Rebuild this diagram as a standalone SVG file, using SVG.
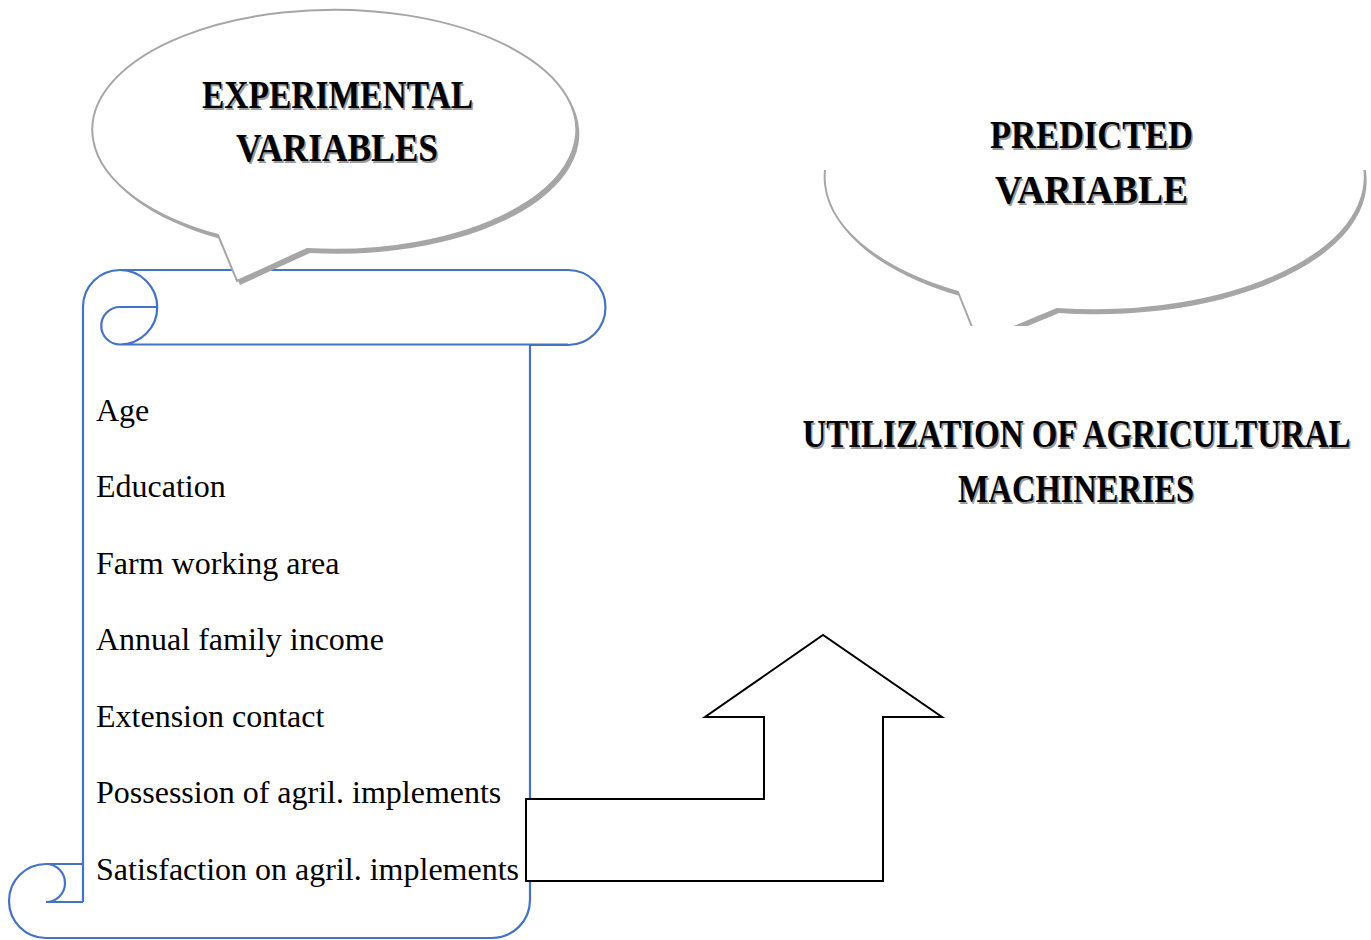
<svg xmlns="http://www.w3.org/2000/svg" width="1371" height="940" viewBox="0 0 1371 940">
<style>
.scroll{fill:#ffffff;stroke:#4472c4;stroke-width:2.2;stroke-linejoin:round}
.scrollline{fill:none;stroke:#4472c4;stroke-width:2.2}
.bub{fill:#ffffff;stroke:#a6a6a6;stroke-width:2}
.shadow{fill:#a6a6a6;stroke:none}
.item{font-family:"Liberation Serif","Times New Roman",serif;font-size:32px;fill:#000}
.head{font-family:"Liberation Serif","Times New Roman",serif;font-size:40px;font-weight:bold;fill:#000;text-anchor:middle}
.headsh{font-family:"Liberation Serif","Times New Roman",serif;font-size:40px;font-weight:bold;fill:#9a9a9a;text-anchor:middle}
.small{font-size:30px}
.arrow{fill:#ffffff;stroke:#000;stroke-width:2;stroke-linejoin:miter}
</style>
<defs>
<clipPath id="predClip"><rect x="790" y="170" width="581" height="156"/></clipPath>
</defs>
<rect width="1371" height="940" fill="#ffffff"/>

<g id="scroll">
  <path class="scroll" d="M120,270 L568,270 A37.5,37.5 0 0 1 568,345 L530,345 L530,900 A38,38 0 0 1 492,938 L46,938 A37,37 0 0 1 9,901 A37,37 0 0 1 46,864 L83,864 L83,307 A37,37 0 0 1 120,270 Z"/>
  <path class="scrollline" d="M120,270 A37,37 0 0 1 120,344.5 L568,344.5"/>
  <path class="scrollline" d="M157,307 L120,307 A18.5,18.5 0 0 0 120,344.5"/>
  <path class="scrollline" d="M46,864 A19,19 0 0 1 46,902 L83,902"/>
  <path class="scrollline" d="M83,864 L83,902"/>
</g>

<g id="experimental-bubble">
  <path class="shadow" transform="translate(3,4)" d="M218,235 L237,281 L307,249 A242,120 0 1 0 218,235 Z"/>
  <path class="bub" d="M218,235 L237,281 L307,249 A242,120 0 1 0 218,235 Z"/>
  <text class="headsh" x="339" y="110" textLength="271" lengthAdjust="spacingAndGlyphs">EXPERIMENTAL</text>
  <text class="head" x="337.5" y="108" textLength="271" lengthAdjust="spacingAndGlyphs">EXPERIMENTAL</text>
  <text class="headsh" x="338.5" y="163" textLength="202" lengthAdjust="spacingAndGlyphs">VARIABLES</text>
  <text class="head" x="337" y="161" textLength="202" lengthAdjust="spacingAndGlyphs">VARIABLES</text>
</g>

<g id="predicted-bubble">
  <g clip-path="url(#predClip)">
    <path class="shadow" transform="translate(2,4)" d="M958,292 L978,342 L1057,309 A270,133 0 1 0 958,292 Z"/>
    <path class="bub" d="M958,292 L978,342 L1057,309 A270,133 0 1 0 958,292 Z"/>
  </g>
  <text class="headsh" x="1093" y="150" textLength="203" lengthAdjust="spacingAndGlyphs">PREDICTED</text>
  <text class="head" x="1091.5" y="148" textLength="203" lengthAdjust="spacingAndGlyphs">PREDICTED</text>
  <text class="headsh" x="1093" y="205" textLength="193" lengthAdjust="spacingAndGlyphs">VARIABLE</text>
  <text class="head" x="1091.5" y="203" textLength="193" lengthAdjust="spacingAndGlyphs">VARIABLE</text>
</g>

<g id="items">
  <text class="item" x="96" y="421">Age</text>
  <text class="item" x="96" y="497">Education</text>
  <text class="item" x="96" y="574">Farm working area</text>
  <text class="item" x="96" y="650">Annual family income</text>
  <text class="item" x="96" y="727">Extension contact</text>
  <text class="item" x="96" y="803">Possession of agril. implements</text>
  <text class="item" x="96" y="880">Satisfaction on agril. implements</text>
</g>

<g id="outcome">
  <text class="headsh small" transform="translate(1078,449) scale(1,1.33)" x="0" y="0" textLength="548" lengthAdjust="spacingAndGlyphs">UTILIZATION OF AGRICULTURAL</text>
  <text class="head small" transform="translate(1076.5,447) scale(1,1.33)" x="0" y="0" textLength="548" lengthAdjust="spacingAndGlyphs">UTILIZATION OF AGRICULTURAL</text>
  <text class="headsh" x="1077.5" y="504" textLength="236" lengthAdjust="spacingAndGlyphs">MACHINERIES</text>
  <text class="head" x="1076" y="502" textLength="236" lengthAdjust="spacingAndGlyphs">MACHINERIES</text>
</g>

<g id="connectors">
  <polygon class="arrow" points="526,799 764,799 764,717 705,717 823,635 942,717 883,717 883,881 526,881"/>
</g>
</svg>
